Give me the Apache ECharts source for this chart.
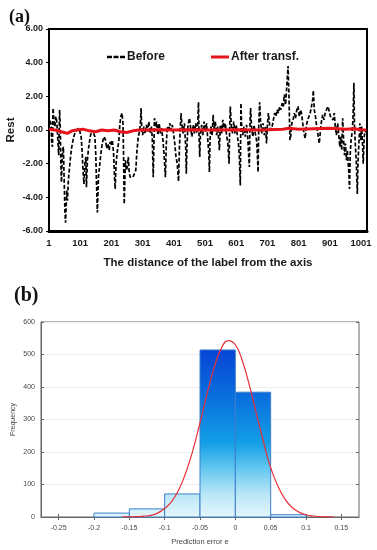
<!DOCTYPE html>
<html><head><meta charset="utf-8">
<script src="https://cdn.jsdelivr.net/npm/echarts@6/dist/echarts.min.js"></script>
<style>html,body{margin:0;padding:0;background:#fff}#c{width:377px;height:550px}</style>
</head><body><div id="c"></div>
<script>
// ---- Chart (a) data ----
const xTicksA = [1,101,201,301,401,501,601,701,801,901,1001];
const before = [[1,0.3],[4,0.6],[7,0.4],[10,-0.8],[12,-1.0],[14,1.3],[17,0.5],[20,0.2],[23,0.8],[26,0.5],[29,-0.5],[32,-1.5],[35,1.2],[37,0.2],[39,-2.0],[41,-3.1],[43,-1.8],[45,-1.2],[47,-1.0],[49,-2.5],[52,-4.8],[54,-5.5],[56,-4.5],[58,-3.6],[60,-4.2],[63,-3.0],[66,-2.4],[70,-1.6],[74,-1.0],[78,-0.6],[82,-0.3],[86,-0.1],[90,0.0],[95,0.1],[100,-0.1],[104,-0.4],[107,-1.2],[110,-2.4],[113,-3.2],[116,-2.0],[119,-1.6],[121,-3.4],[124,-1.8],[127,-1.2],[130,-0.8],[133,-0.4],[136,-0.2],[140,-0.3],[144,-0.2],[148,-0.4],[151,-1.5],[153,-3.0],[156,-4.9],[158,-3.6],[160,-2.6],[163,-2.2],[166,-1.6],[170,-1.0],[174,-0.6],[178,-0.4],[182,-0.6],[186,-1.1],[190,-0.8],[194,-1.2],[197,-0.7],[200,-0.9],[204,-0.6],[208,-1.4],[211,-2.8],[213,-3.5],[216,-2.0],[219,-1.4],[222,-1.0],[225,-0.6],[228,0.3],[231,0.8],[235,1.0],[238,0.4],[240,-1.5],[242,-4.4],[244,-3.0],[246,-1.8],[249,-2.4],[252,-2.2],[255,-1.6],[258,-2.5],[261,-2.8],[265,-2.9],[270,-2.8],[275,-2.7],[279,-2.4],[283,-1.2],[287,-0.4],[291,-0.1],[294,0.4],[296,1.3],[298,0.2],[301,-0.3],[305,0.2],[309,-0.2],[313,0.3],[317,-0.1],[321,0.5],[325,-0.2],[329,0.2],[332,-0.5],[335,-2.8],[337,-1.0],[339,0.7],[342,0.2],[346,0.5],[350,-0.3],[354,0.4],[358,-0.2],[362,0.1],[366,-0.6],[370,-1.5],[374,-2.8],[377,-0.8],[380,0.2],[384,-0.1],[388,0.4],[392,0.0],[396,0.3],[400,-0.2],[404,-0.8],[408,-1.6],[412,-2.0],[416,-3.05],[419,-1.0],[422,0.2],[424,1.0],[427,0.3],[431,-0.2],[435,0.4],[439,-1.0],[441,-2.6],[443,-1.0],[446,0.2],[451,0.7],[455,0.1],[459,-0.4],[463,0.3],[467,-0.2],[471,0.4],[475,-0.2],[478,0.5],[480,1.65],[482,-0.5],[484,-1.6],[486,-0.4],[490,0.3],[494,-0.3],[498,0.5],[502,-0.1],[506,0.4],[510,-0.6],[513,-1.4],[515,-2.5],[517,-0.6],[520,0.2],[524,-0.3],[527,0.9],[530,0.0],[534,0.5],[538,-0.3],[542,0.2],[547,-1.2],[550,0.3],[554,-0.2],[558,0.6],[562,0.1],[566,0.4],[570,-0.3],[574,-0.8],[578,-2.0],[580,0.2],[582,1.4],[585,0.3],[589,-0.2],[593,0.5],[597,-0.2],[601,0.3],[605,-0.4],[608,-0.8],[611,-1.6],[614,-3.3],[616,1.6],[618,0.4],[622,-0.3],[626,0.2],[630,-0.4],[634,0.3],[638,-0.5],[643,-2.2],[645,0.4],[647,1.3],[650,0.2],[654,-0.4],[658,0.3],[662,-0.2],[666,-0.6],[668,-1.2],[671,-2.5],[673,0.2],[676,1.65],[679,0.5],[683,-0.2],[687,0.4],[691,-0.3],[695,0.2],[698,-0.8],[701,0.3],[704,1.0],[708,0.3],[712,0.0],[716,0.2],[720,0.6],[724,1.0],[728,0.8],[732,1.2],[736,1.0],[740,1.4],[744,1.2],[748,1.6],[752,1.4],[755,2.1],[759,1.5],[763,2.6],[767,3.8],[770,2.0],[773,-0.6],[776,-0.3],[779,0.4],[783,0.6],[787,1.0],[791,0.7],[795,1.2],[799,1.4],[803,0.8],[807,1.2],[810,1.0],[814,0.4],[818,-0.2],[822,-0.5],[826,0.3],[830,0.6],[834,0.8],[838,1.0],[842,1.4],[846,1.8],[848,2.35],[851,1.2],[855,0.8],[859,0.2],[863,-0.3],[867,-0.8],[870,-0.2],[874,0.5],[878,0.9],[882,0.6],[886,1.0],[890,1.2],[895,1.4],[899,1.4],[903,0.8],[907,0.9],[911,0.6],[915,1.0],[918,0.3],[922,-0.3],[926,0.4],[930,-0.4],[933,-1.0],[936,-0.4],[939,-1.2],[942,0.7],[945,-0.6],[948,-1.5],[951,-0.8],[954,-1.8],[957,-1.2],[960,-2.0],[962,-2.6],[964,-3.5],[966,-1.5],[969,-0.6],[972,-0.2],[975,0.6],[978,2.8],[980,0.2],[983,-1.0],[986,-2.0],[989,-3.8],[991,-2.0],[994,-0.8],[997,0.4],[1000,-0.6],[1003,0.2],[1006,-1.0],[1008,-2.0],[1011,-0.4],[1014,0.0],[1018,-0.2]];
const afterTransf = [[1,0.05],[20,0.0],[40,-0.1],[50,-0.15],[60,-0.2],[75,-0.05],[90,0.0],[110,0.05],[130,-0.05],[150,-0.1],[170,0.0],[190,-0.05],[210,0.0],[230,-0.1],[250,-0.15],[270,-0.05],[290,0.0],[320,0.0],[360,0.02],[400,0.0],[450,0.02],[500,0.0],[550,0.0],[600,0.02],[650,0.0],[700,0.02],[750,0.05],[770,0.1],[800,0.05],[850,0.08],[900,0.1],[950,0.05],[980,0.08],[1000,0.02],[1018,0.0]];

// ---- Chart (b) data ----
const binStarts = [-0.2,-0.15,-0.1,-0.05,0,0.05];
const binWidth = 0.05;
const frequencies = [12,25,71,514,384,7];
const xTicksB = [-0.25,-0.2,-0.15,-0.1,-0.05,0,0.05,0.1,0.15];
const normalCurve = [[-0.16,0.3],[-0.14,1],[-0.13,2.5],[-0.12,5],[-0.11,12],[-0.1,26],[-0.09,48],[-0.08,84],[-0.07,137],[-0.06,206],[-0.05,290],[-0.04,379],[-0.03,460],[-0.02,518],[-0.01,543],[0,530],[0.01,480],[0.02,404],[0.03,316],[0.04,230],[0.05,152],[0.06,96],[0.07,56],[0.08,30],[0.09,15],[0.1,7],[0.11,3],[0.12,1.2],[0.13,0.4],[0.14,0]];

const chart = echarts.init(document.getElementById('c'), null, {renderer:'canvas'});
const boldA = {fontFamily:'Liberation Sans, Arial, sans-serif', fontWeight:'bold', color:'#1a1a1a'};
const smallB = {fontFamily:'Liberation Sans, Arial, sans-serif', color:'#444', fontSize:7};

const histData = binStarts.map((s,i)=>[s, s+binWidth, frequencies[i]]);

chart.setOption({
  animation:false,
  backgroundColor:'#fff',
  title:[
    {text:'(a)', left:4, top:3, textStyle:{fontFamily:'Liberation Serif, Times New Roman, serif', fontWeight:'bold', fontSize:18, color:'#111'}},
    {text:'(b)', left:9, top:281, textStyle:{fontFamily:'Liberation Serif, Times New Roman, serif', fontWeight:'bold', fontSize:20, color:'#111'}}
  ],
  legend:{
    left:102, top:46, itemWidth:18, itemHeight:3, itemGap:46,
    textStyle:Object.assign({}, boldA, {fontSize:12, padding:[0,0,0,-3]}),
    data:[
      {name:'Before', icon:'path://M0,0h5v2.5h-5z M6.5,0h5v2.5h-5z M13,0h5v2.5h-5z', itemStyle:{color:'#000'}},
      {name:'After transf.', icon:'rect', itemStyle:{color:'#e8141c'}}
    ]
  },
  grid:[
    {left:49, top:29, right:10, height:202, show:true, borderColor:'#000', borderWidth:2, backgroundColor:'#fff', outerBoundsMode:'none', containLabel:false},
    {left:41, top:322, right:18, height:195, show:true, borderColor:'#666', borderWidth:1, backgroundColor:'#fff', outerBoundsMode:'none', containLabel:false}
  ],
  xAxis:[
    {gridIndex:0, type:'value', min:1, max:1020,
     axisLine:{show:true, onZero:false, lineStyle:{color:'#000', width:3}},
     axisTick:{show:false}, splitLine:{show:false},
     axisLabel:Object.assign({}, boldA, {fontSize:9.5, margin:7, customValues:xTicksA, formatter:v=>String(v)}),
     name:'The distance of the label from the axis', nameLocation:'middle', nameGap:26, nameMoveOverlap:false,
     nameTextStyle:Object.assign({}, boldA, {fontSize:11.5})},
    {gridIndex:1, type:'value', min:-0.275, max:0.175,
     axisLine:{show:true, onZero:false, lineStyle:{color:'#666', width:1}},
     axisTick:{show:true, inside:true, length:3, lineStyle:{color:'#666'}, customValues:xTicksB},
     splitLine:{show:false},
     axisLabel:Object.assign({}, smallB, {margin:8, customValues:xTicksB, formatter:v=>String(v)}),
     name:'Prediction error e', nameLocation:'middle', nameGap:21, nameMoveOverlap:false,
     nameTextStyle:Object.assign({}, smallB, {fontSize:7.5})},
    {gridIndex:1, type:'value', position:'top', min:-0.275, max:0.175,
     axisLine:{show:false}, axisLabel:{show:false}, splitLine:{show:false},
     axisTick:{show:true, inside:true, length:3, lineStyle:{color:'#666'}, customValues:xTicksB}}
  ],
  yAxis:[
    {gridIndex:0, type:'value', min:-6, max:6, interval:2,
     axisLine:{show:true, onZero:false, lineStyle:{color:'#000', width:2}},
     axisTick:{show:true, length:3, lineStyle:{color:'#000'}}, splitLine:{show:false},
     axisLabel:Object.assign({}, boldA, {fontSize:9, margin:6, formatter:v=>v.toFixed(2)}),
     name:'Rest', nameLocation:'middle', nameGap:32, nameRotate:90, nameMoveOverlap:false,
     nameTextStyle:Object.assign({}, boldA, {fontSize:11.5})},
    {gridIndex:1, type:'value', min:0, max:600, interval:100,
     axisLine:{show:true, onZero:false, lineStyle:{color:'#666'}},
     axisTick:{show:true, inside:true, length:3, lineStyle:{color:'#666'}},
     splitLine:{show:true, lineStyle:{color:'#e9eff2', width:1}},
     axisLabel:Object.assign({}, smallB, {margin:6}),
     name:'Frequency', nameLocation:'middle', nameGap:24, nameRotate:90, nameMoveOverlap:false,
     nameTextStyle:Object.assign({}, smallB)},
    {gridIndex:1, type:'value', position:'right', min:0, max:600, interval:100,
     axisLine:{show:false, onZero:false}, axisLabel:{show:false}, splitLine:{show:false},
     axisTick:{show:true, inside:true, length:3, lineStyle:{color:'#666'}}}
  ],
  series:[
    {name:'Before', type:'line', xAxisIndex:0, yAxisIndex:0, data:before, symbol:'none',
     lineStyle:{color:'#000', width:1.7, type:[4,2]}, itemStyle:{color:'#000'}, z:3},
    {name:'After transf.', type:'line', xAxisIndex:0, yAxisIndex:0, data:afterTransf, symbol:'none',
     lineStyle:{color:'#e8141c', width:3}, itemStyle:{color:'#e8141c'}, z:4},
    {name:'hist', type:'custom', xAxisIndex:1, yAxisIndex:1, data:histData,
     renderItem:function(params, api){
       const p0 = api.coord([api.value(0), api.value(2)]);
       const p1 = api.coord([api.value(1), 0]);
       const yTop = api.coord([0,600])[1];
       const yBot = api.coord([0,0])[1];
       return {type:'rect', shape:{x:p0[0], y:p0[1], width:p1[0]-p0[0], height:p1[1]-p0[1]},
         style:{fill:{type:'linear', x:0, y:yTop, x2:0, y2:yBot, global:true,
           colorStops:[{offset:0,color:'#0330c8'},{offset:0.15,color:'#0646d6'},{offset:0.4,color:'#0a72de'},{offset:0.62,color:'#129fe6'},{offset:0.74,color:'#5cc4ef'},{offset:0.88,color:'#b8e6f7'},{offset:1,color:'#e4f6fc'}]},
           stroke:'#3d7fcc', lineWidth:1}};
     }, z:2},
    {name:'normal', type:'line', xAxisIndex:1, yAxisIndex:1, data:normalCurve, symbol:'none', smooth:true,
     lineStyle:{color:'#e8303a', width:1.2}, z:5}
  ]
});
</script></body></html>
